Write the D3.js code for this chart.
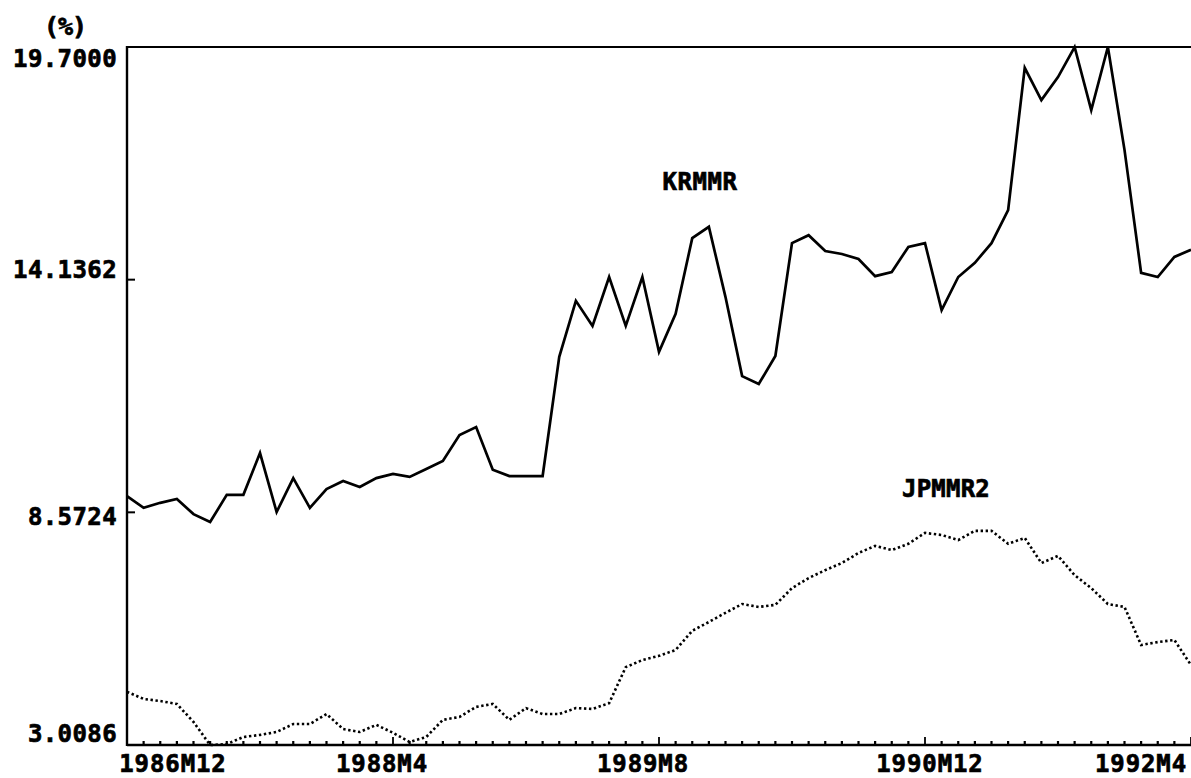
<!DOCTYPE html>
<html>
<head>
<meta charset="utf-8">
<script src="https://cdn.jsdelivr.net/npm/d3@7/dist/d3.min.js"></script>
<style>
  html, body { margin: 0; padding: 0; background: #fff; }
  svg { display: block; }
  text { font-family: "DejaVu Sans Mono", "Liberation Mono", monospace; font-weight: bold; fill: #000;
         stroke: #000; stroke-width: 0.7px; }
</style>
</head>
<body>
<svg id="chart" width="1191" height="778"></svg>
<script>
// ---- data ----
const startYear = 1986, startMonth = 12, nPeriods = 65;   // 1986M12 .. 1992M4
const periods = [];
for (let i = 0; i < nPeriods; i++) {
  const m0 = startMonth - 1 + i;
  periods.push((startYear + Math.floor(m0 / 12)) + "M" + (m0 % 12 + 1));
}

const krmmr = [
  8.96, 8.68, 8.80, 8.89, 8.53, 8.34, 8.99, 8.99, 9.99, 8.58,
  9.39, 8.68, 9.13, 9.32, 9.18, 9.39, 9.49, 9.42, 9.61, 9.80,
  10.42, 10.61, 9.59, 9.44, 9.44, 9.44, 12.29, 13.63, 13.03, 14.20,
  13.03, 14.20, 12.41, 13.32, 15.13, 15.40, 13.72, 11.83, 11.64, 12.31,
  15.01, 15.20, 14.82, 14.75, 14.63, 14.22, 14.32, 14.92, 15.01, 13.41,
  14.20, 14.54, 15.01, 15.80, 19.20, 18.43, 18.98, 19.70, 18.19, 19.70,
  17.24, 14.30, 14.20, 14.68, 14.85
];

const jpmmr2 = [
  4.28, 4.11, 4.06, 3.99, 3.56, 3.0086, 3.03, 3.20, 3.25, 3.32,
  3.51, 3.51, 3.75, 3.39, 3.32, 3.49, 3.30, 3.08, 3.20, 3.61,
  3.68, 3.92, 3.99, 3.61, 3.89, 3.75, 3.75, 3.89, 3.87, 4.01,
  4.87, 5.04, 5.14, 5.28, 5.74, 5.95, 6.17, 6.38, 6.31, 6.36,
  6.76, 7.00, 7.19, 7.36, 7.60, 7.77, 7.67, 7.82, 8.08, 8.03,
  7.91, 8.13, 8.13, 7.82, 7.96, 7.36, 7.53, 7.07, 6.76, 6.38,
  6.31, 5.40, 5.47, 5.52, 4.92
];

const yTickValues = [3.0086, 8.5724, 14.1362, 19.7000];
const xLabelPeriods = ["1986M12", "1988M4", "1989M8", "1990M12", "1992M4"];
const seriesNames = ["KRMMR", "JPMMR2"];
const unitLabel = "(%)";

// ---- layout ----
const svg = d3.select("#chart");
const pLeft = 127, pRight = 1191, pTop = 47, pBottom = 745;

const x = d3.scalePoint().domain(periods).range([pLeft, pRight]);
const y = d3.scaleLinear().domain([3.0086, 19.7]).range([pBottom, pTop]);

const line = d3.line().x((d, i) => x(periods[i])).y(d => y(d));

// frame
svg.append("line").attr("x1", pLeft).attr("x2", pRight).attr("y1", pTop).attr("y2", pTop)
  .attr("stroke", "#000").attr("stroke-width", 2.2);
svg.append("line").attr("x1", pLeft).attr("x2", pLeft).attr("y1", pTop - 1).attr("y2", pBottom + 1)
  .attr("stroke", "#000").attr("stroke-width", 2.4);
svg.append("line").attr("x1", pLeft).attr("x2", pRight).attr("y1", pBottom).attr("y2", pBottom)
  .attr("stroke", "#000").attr("stroke-width", 2.6);

// x ticks (monthly, major every 16 months)
const xAxis = svg.append("g");
periods.forEach((p, i) => {
  const major = xLabelPeriods.includes(p);
  xAxis.append("line")
    .attr("x1", x(p)).attr("x2", x(p))
    .attr("y1", pBottom).attr("y2", pBottom - (major ? 8 : 4))
    .attr("stroke", "#000").attr("stroke-width", major ? 1.8 : 2.2);
});
const xLabelDx = [46, -11, -16, 5, -50];
xLabelPeriods.forEach((p, k) => {
  xAxis.append("text")
    .attr("x", x(p) + xLabelDx[k]).attr("y", 772)
    .attr("text-anchor", "middle")
    .attr("font-size", 24).attr("letter-spacing", 0.9)
    .text(p);
});

// y ticks
const yAxis = svg.append("g");
const yLabelDy = [-3, 13, -2, 20];
yTickValues.forEach((v, k) => {
  if (k > 0 && k < yTickValues.length - 1) {
    yAxis.append("line").attr("x1", pLeft).attr("x2", pLeft + 8)
      .attr("y1", y(v)).attr("y2", y(v))
      .attr("stroke", "#000").attr("stroke-width", 2);
  }
  yAxis.append("text")
    .attr("x", 117).attr("y", y(v) + yLabelDy[k])
    .attr("text-anchor", "end")
    .attr("font-size", 24).attr("letter-spacing", 0.4)
    .text(v.toFixed(4));
});

svg.append("text").attr("x", 65).attr("y", 35).attr("text-anchor", "middle")
  .attr("font-size", 25).attr("letter-spacing", -1).text(unitLabel);

// series
svg.append("path").datum(krmmr).attr("d", line)
  .attr("fill", "none").attr("stroke", "#000").attr("stroke-width", 2.7)
  .attr("stroke-linejoin", "miter");

svg.append("path").datum(jpmmr2).attr("d", line)
  .attr("fill", "none").attr("stroke", "#000").attr("stroke-width", 2.6)
  .attr("stroke-dasharray", "2.4,2.6");

// series labels
svg.append("text").attr("x", 700).attr("y", 190).attr("text-anchor", "middle")
  .attr("font-size", 24).attr("letter-spacing", 0.6).text(seriesNames[0]);
svg.append("text").attr("x", 946).attr("y", 497).attr("text-anchor", "middle")
  .attr("font-size", 24).attr("letter-spacing", 0.2).text(seriesNames[1]);
</script>
</body>
</html>
